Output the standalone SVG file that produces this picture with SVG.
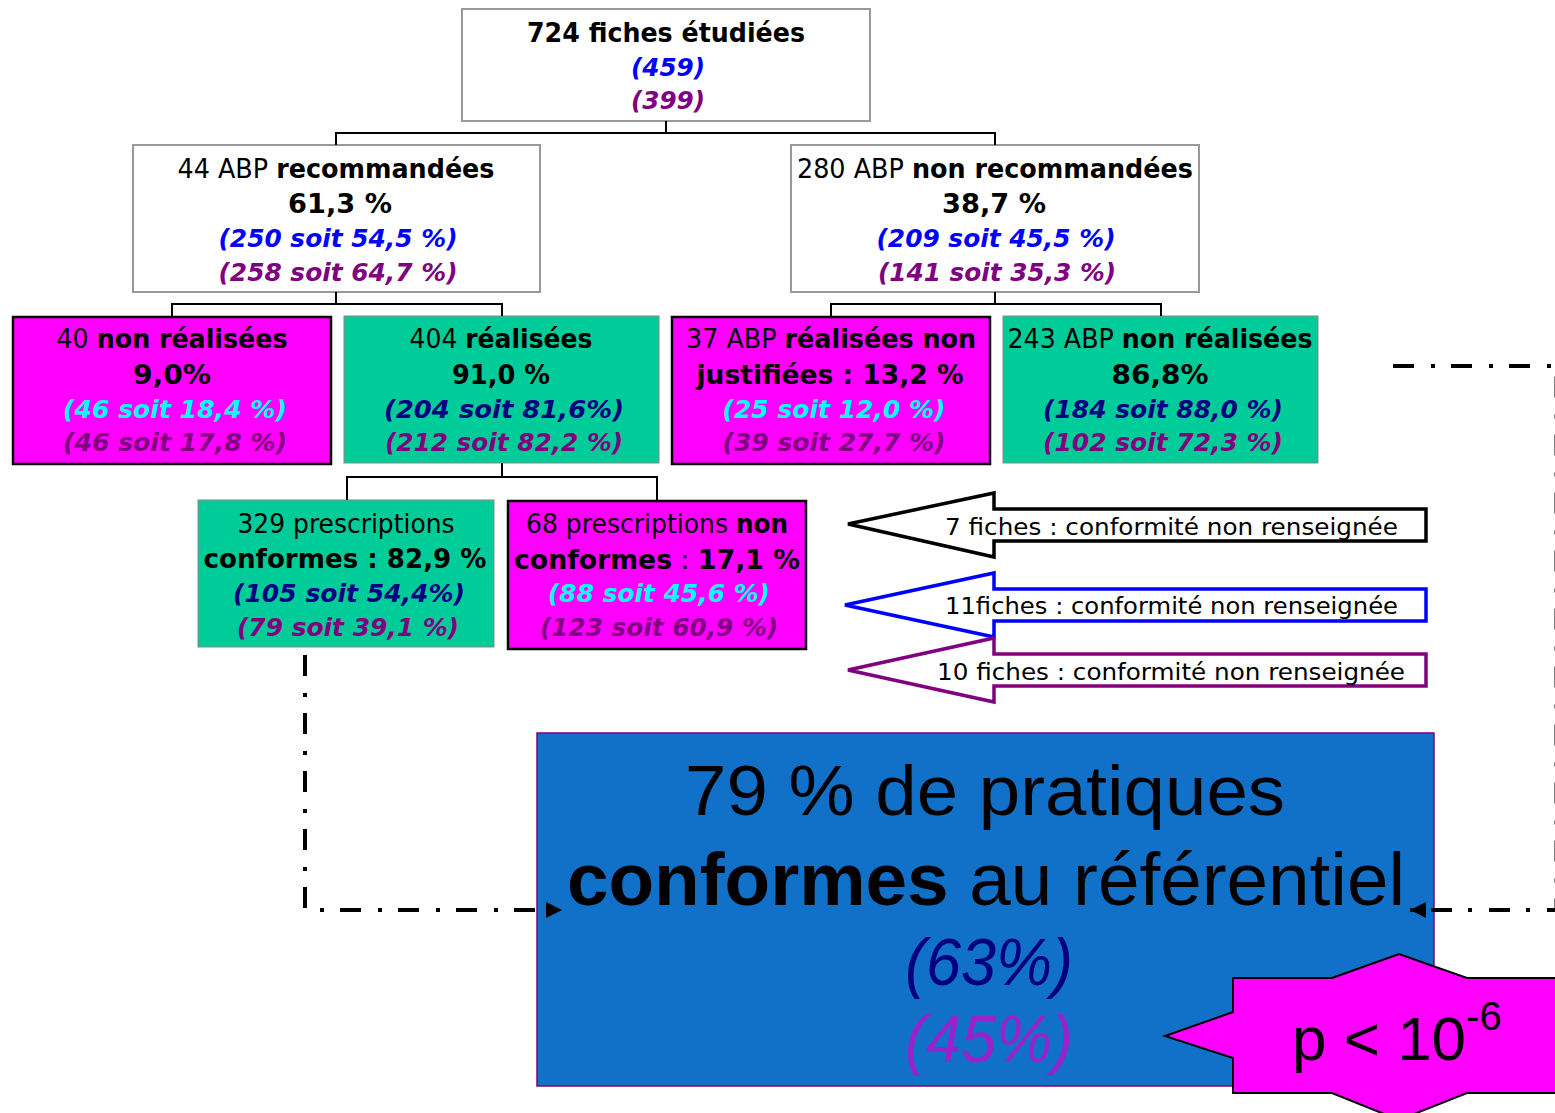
<svg xmlns="http://www.w3.org/2000/svg" width="1555" height="1113" viewBox="0 0 1555 1113">
<style>
.t{font-family:"DejaVu Sans",sans-serif;font-size:26px;fill:#000;text-anchor:middle}
.s{text-anchor:start}
.i{font-family:"DejaVu Sans",sans-serif;font-size:24px;font-style:italic;font-weight:bold;text-anchor:middle}
.b{font-weight:bold}
.blue{fill:#0000FF}.pur{fill:#800080}.navy{fill:#000080}.cyan{fill:#00FFFF}
.wbox{fill:#fff;stroke:#999;stroke-width:2}
.mag{fill:#FF00FF;stroke:#000;stroke-width:2.5}
.teal{fill:#00CC99;stroke:#888;stroke-width:1}
.con{fill:none;stroke:#000;stroke-width:2}
.dd{fill:none;stroke:#000;stroke-width:4;stroke-dasharray:21 17 4 16}
.arr{fill:#fff;stroke-width:3.5}
.at{font-family:"DejaVu Sans",sans-serif;font-size:23px;fill:#000}
.big{font-family:"Liberation Sans",Arial,sans-serif;text-anchor:middle}
</style>
<defs>
<marker id="ah" markerWidth="16" markerHeight="16" viewBox="0 0 16 16" refX="16" refY="8" orient="auto" markerUnits="userSpaceOnUse">
<path d="M0,0 L16,8 L0,16 Z" fill="#000"/>
</marker>
</defs>

<g id="n-top">
<rect class="wbox" x="462" y="9" width="408" height="112"/>
<text class="t b" x="666" y="42" textLength="278" lengthAdjust="spacingAndGlyphs">724 fiches étudiées</text>
<text class="i blue" x="668" y="76" textLength="74" lengthAdjust="spacingAndGlyphs">(459)</text>
<text class="i pur" x="668" y="109" textLength="74" lengthAdjust="spacingAndGlyphs">(399)</text>
</g>

<g id="n-rec">
<rect class="wbox" x="133" y="145" width="407" height="147" stroke-width="1.5"/>
<text class="t" x="336" y="178" textLength="317" lengthAdjust="spacingAndGlyphs">44 ABP <tspan class="b">recommandées</tspan></text>
<text class="t b" x="340" y="213" textLength="104" lengthAdjust="spacingAndGlyphs">61,3 %</text>
<text class="i blue" x="338" y="247" textLength="239" lengthAdjust="spacingAndGlyphs">(250 soit 54,5 %)</text>
<text class="i pur" x="338" y="281" textLength="239" lengthAdjust="spacingAndGlyphs">(258 soit 64,7 %)</text>
</g>

<g id="n-nonrec">
<rect class="wbox" x="791" y="145" width="408" height="147" stroke-width="1.5"/>
<text class="t" x="995" y="178" textLength="396" lengthAdjust="spacingAndGlyphs">280 ABP <tspan class="b">non recommandées</tspan></text>
<text class="t b" x="994" y="213" textLength="104" lengthAdjust="spacingAndGlyphs">38,7 %</text>
<text class="i blue" x="996" y="247" textLength="239" lengthAdjust="spacingAndGlyphs">(209 soit 45,5 %)</text>
<text class="i pur" x="997" y="281" textLength="238" lengthAdjust="spacingAndGlyphs">(141 soit 35,3 %)</text>
</g>

<g id="n-nonreal">
<rect class="mag" x="13" y="317" width="318" height="147"/>
<text class="t" x="172" y="348" textLength="231" lengthAdjust="spacingAndGlyphs">40 <tspan class="b">non réalisées</tspan></text>
<text class="t b" x="172" y="384" textLength="78" lengthAdjust="spacingAndGlyphs">9,0%</text>
<text class="i cyan" x="175" y="418" textLength="224" lengthAdjust="spacingAndGlyphs">(46 soit 18,4 %)</text>
<text class="i pur" x="175" y="451" textLength="224" lengthAdjust="spacingAndGlyphs">(46 soit 17,8 %)</text>
</g>

<g id="n-real">
<rect class="teal" x="344" y="316" width="315" height="147"/>
<text class="t" x="501" y="348" textLength="183" lengthAdjust="spacingAndGlyphs">404 <tspan class="b">réalisées</tspan></text>
<text class="t b" x="501" y="384" textLength="98" lengthAdjust="spacingAndGlyphs">91,0 %</text>
<text class="i navy" x="504" y="418" textLength="240" lengthAdjust="spacingAndGlyphs">(204 soit  81,6%)</text>
<text class="i pur" x="504" y="451" textLength="238" lengthAdjust="spacingAndGlyphs">(212 soit 82,2 %)</text>
</g>

<g id="n-realnj">
<rect class="mag" x="672" y="317" width="318" height="147"/>
<text class="t" x="831" y="348" textLength="290" lengthAdjust="spacingAndGlyphs">37 ABP <tspan class="b">réalisées non</tspan></text>
<text class="t b" x="830" y="384" textLength="267" lengthAdjust="spacingAndGlyphs">justifiées : 13,2 %</text>
<text class="i cyan" x="834" y="418" textLength="223" lengthAdjust="spacingAndGlyphs">(25 soit 12,0 %)</text>
<text class="i pur" x="834" y="451" textLength="223" lengthAdjust="spacingAndGlyphs">(39 soit 27,7 %)</text>
</g>

<g id="n-nonreal2">
<rect class="teal" x="1003" y="316" width="315" height="147"/>
<text class="t" x="1160" y="348" textLength="305" lengthAdjust="spacingAndGlyphs">243 ABP <tspan class="b">non réalisées</tspan></text>
<text class="t b" x="1160" y="384" textLength="97" lengthAdjust="spacingAndGlyphs">86,8%</text>
<text class="i navy" x="1163" y="418" textLength="240" lengthAdjust="spacingAndGlyphs">(184 soit 88,0 %)</text>
<text class="i pur" x="1163" y="451" textLength="240" lengthAdjust="spacingAndGlyphs">(102 soit 72,3 %)</text>
</g>

<g id="n-conf">
<rect class="teal" x="198" y="500" width="296" height="147"/>
<text class="t" x="346" y="533" textLength="217" lengthAdjust="spacingAndGlyphs">329 prescriptions</text>
<text class="t b" x="345" y="568" textLength="283" lengthAdjust="spacingAndGlyphs">conformes : 82,9 %</text>
<text class="i navy" x="349" y="602" textLength="232" lengthAdjust="spacingAndGlyphs">(105 soit 54,4%)</text>
<text class="i pur" x="348" y="636" textLength="222" lengthAdjust="spacingAndGlyphs">(79 soit 39,1 %)</text>
</g>

<g id="n-nonconf">
<rect class="mag" x="508" y="501" width="298" height="148"/>
<text class="t s" x="526" y="533" textLength="202" lengthAdjust="spacingAndGlyphs">68 prescriptions</text>
<text class="t s b" x="736" y="533" textLength="52" lengthAdjust="spacingAndGlyphs">non</text>
<text class="t" x="657" y="569" textLength="286" lengthAdjust="spacingAndGlyphs"><tspan class="b">conformes</tspan> : <tspan class="b">17,1 %</tspan></text>
<text class="i cyan" x="659" y="602" textLength="222" lengthAdjust="spacingAndGlyphs">(88 soit 45,6 %)</text>
<text class="i pur" x="659" y="636" textLength="238" lengthAdjust="spacingAndGlyphs">(123 soit 60,9 %)</text>
</g>

<g id="n-arrow7">
<path class="arr" stroke="#000" d="M848,524 L994,493 V509 H1426 V541 H994 V557 Z"/>
<text class="at" x="945" y="535" textLength="453" lengthAdjust="spacingAndGlyphs">7 fiches : conformité non renseignée</text>
</g>

<g id="n-arrow11">
<path class="arr" stroke="#0000FF" d="M845,605 L994,573 V589 H1426 V621 H994 V637 Z"/>
<text class="at" x="945" y="614" textLength="453" lengthAdjust="spacingAndGlyphs">11fiches : conformité non renseignée</text>
</g>

<g id="n-arrow10">
<path class="arr" stroke="#800080" d="M848,670 L994,638 V654 H1426 V686 H994 V702 Z"/>
<text class="at" x="937" y="680" textLength="468" lengthAdjust="spacingAndGlyphs">10 fiches : conformité non renseignée</text>
</g>

<g id="n-result">
<rect x="537" y="733" width="897" height="353" fill="#1170C7" stroke="#800080" stroke-width="1.5"/>
<text class="big" x="985" y="815" font-size="71" textLength="600" lengthAdjust="spacingAndGlyphs">79 % de pratiques</text>
<text class="big" x="986" y="905" font-size="74" textLength="838" lengthAdjust="spacingAndGlyphs"><tspan font-weight="bold">conformes</tspan> au référentiel</text>
<text class="big" x="989" y="985" font-size="66" font-style="italic" fill="#000080" textLength="168" lengthAdjust="spacingAndGlyphs">(63%)</text>
<text class="big" x="989" y="1062" font-size="66" font-style="italic" fill="#9922CC" textLength="168" lengthAdjust="spacingAndGlyphs">(45%)</text>
</g>

<g id="connectors">
<path class="con" d="M666,121 V133 M336,145 V133 H995 V145"/>
<path class="con" d="M336,292 V304 M172,316 V304 H502 V316"/>
<path class="con" d="M995,292 V304 M831,316 V304 H1161 V316"/>
<path class="con" d="M502,463 V477 M347,500 V477 H657 V500"/>
<path class="dd" d="M305,655 V910 H562" marker-end="url(#ah)"/>
<path class="dd" d="M1393,366 H1556.5 V910 H1410" marker-end="url(#ah)"/>
</g>

<g id="n-pvalue">
<polygon points="1165,1036 1233,1012 1233,978 1332,978 1399,954 1467,978 1600,978 1600,1093 1467,1093 1399,1120 1332,1093 1233,1093 1233,1058" fill="#FF00FF" stroke="#000" stroke-width="2"/>
<text x="1292" y="1060" font-family="Liberation Sans, Arial, sans-serif" font-size="62" fill="#000">p &lt; 10<tspan font-size="40" dy="-30">-6</tspan></text>
</g>
</svg>
